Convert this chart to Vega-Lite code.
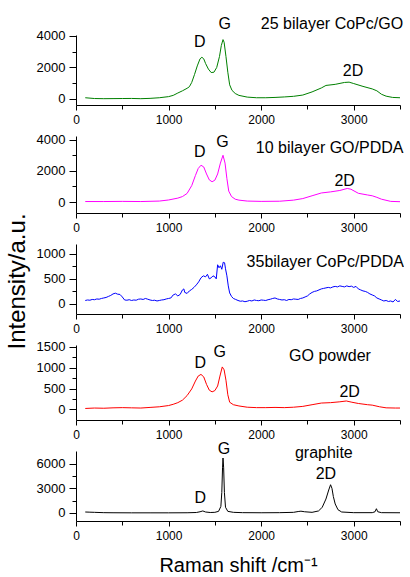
{
"$schema": "https://vega.github.io/schema/vega-lite/v6.json",
"padding": {"left": 5, "top": 15, "right": 0, "bottom": 0},
"spacing": 31,
"bounds": "flush",
"config": {"view": {"stroke": null}, "axis": {"grid": false, "domainColor": "#000", "tickColor": "#000", "labelColor": "#000", "titleColor": "#000", "labelFont": "Liberation Sans", "titleFont": "Liberation Sans", "titleFontWeight": "normal"}, "text": {"font": "Liberation Sans", "fontSize": 16, "color": "#000"}},
"datasets": {
"s1": [{"x":100,"y":80},{"x":200,"y":30},{"x":300,"y":20},{"x":400,"y":25},{"x":500,"y":30},{"x":600,"y":35},{"x":700,"y":20},{"x":800,"y":40},{"x":900,"y":80},{"x":1000,"y":150},{"x":1050,"y":230},{"x":1100,"y":380},{"x":1150,"y":520},{"x":1200,"y":680},{"x":1225,"y":780},{"x":1250,"y":1050},{"x":1280,"y":1550},{"x":1310,"y":2100},{"x":1340,"y":2550},{"x":1360,"y":2650},{"x":1380,"y":2550},{"x":1400,"y":2250},{"x":1430,"y":1900},{"x":1460,"y":1680},{"x":1490,"y":1700},{"x":1520,"y":2000},{"x":1550,"y":2700},{"x":1570,"y":3400},{"x":1588,"y":3770},{"x":1600,"y":3600},{"x":1620,"y":2700},{"x":1640,"y":1700},{"x":1660,"y":900},{"x":1685,"y":550},{"x":1720,"y":350},{"x":1760,"y":230},{"x":1850,"y":120},{"x":1950,"y":80},{"x":2050,"y":80},{"x":2150,"y":100},{"x":2250,"y":130},{"x":2350,"y":170},{"x":2450,"y":250},{"x":2550,"y":450},{"x":2650,"y":700},{"x":2700,"y":860},{"x":2800,"y":930},{"x":2900,"y":1050},{"x":2950,"y":1070},{"x":3000,"y":980},{"x":3100,"y":800},{"x":3200,"y":640},{"x":3250,"y":520},{"x":3300,"y":300},{"x":3350,"y":180},{"x":3420,"y":100},{"x":3500,"y":80}],
"s2": [{"x":100,"y":30},{"x":300,"y":30},{"x":500,"y":40},{"x":700,"y":30},{"x":900,"y":60},{"x":1000,"y":130},{"x":1100,"y":250},{"x":1150,"y":350},{"x":1200,"y":550},{"x":1250,"y":1050},{"x":1290,"y":1700},{"x":1320,"y":2150},{"x":1350,"y":2360},{"x":1380,"y":2250},{"x":1410,"y":1800},{"x":1440,"y":1420},{"x":1470,"y":1300},{"x":1500,"y":1400},{"x":1530,"y":1800},{"x":1560,"y":2500},{"x":1588,"y":3000},{"x":1610,"y":2500},{"x":1630,"y":1500},{"x":1650,"y":700},{"x":1680,"y":350},{"x":1720,"y":180},{"x":1760,"y":120},{"x":1850,"y":60},{"x":2000,"y":40},{"x":2200,"y":50},{"x":2350,"y":120},{"x":2450,"y":220},{"x":2550,"y":400},{"x":2650,"y":580},{"x":2750,"y":650},{"x":2850,"y":740},{"x":2930,"y":870},{"x":2970,"y":820},{"x":3050,"y":560},{"x":3150,"y":450},{"x":3200,"y":400},{"x":3250,"y":300},{"x":3300,"y":180},{"x":3400,"y":40},{"x":3500,"y":20}],
"s3": [{"x":100,"y":70},{"x":125,"y":80},{"x":150,"y":75},{"x":175,"y":90},{"x":200,"y":85},{"x":225,"y":100},{"x":250,"y":95},{"x":275,"y":110},{"x":300,"y":120},{"x":325,"y":130},{"x":350,"y":150},{"x":375,"y":170},{"x":400,"y":200},{"x":425,"y":215},{"x":450,"y":195},{"x":475,"y":190},{"x":500,"y":140},{"x":525,"y":80},{"x":550,"y":75},{"x":575,"y":85},{"x":600,"y":70},{"x":625,"y":80},{"x":650,"y":75},{"x":675,"y":95},{"x":700,"y":100},{"x":725,"y":90},{"x":750,"y":110},{"x":775,"y":95},{"x":800,"y":80},{"x":825,"y":70},{"x":850,"y":75},{"x":875,"y":60},{"x":900,"y":70},{"x":925,"y":80},{"x":950,"y":85},{"x":975,"y":100},{"x":1000,"y":110},{"x":1025,"y":120},{"x":1050,"y":180},{"x":1075,"y":200},{"x":1100,"y":160},{"x":1125,"y":190},{"x":1150,"y":280},{"x":1165,"y":300},{"x":1175,"y":230},{"x":1200,"y":210},{"x":1225,"y":260},{"x":1250,"y":290},{"x":1275,"y":330},{"x":1300,"y":380},{"x":1325,"y":440},{"x":1350,"y":520},{"x":1375,"y":560},{"x":1400,"y":540},{"x":1420,"y":590},{"x":1440,"y":500},{"x":1460,"y":520},{"x":1480,"y":560},{"x":1500,"y":540},{"x":1515,"y":500},{"x":1530,"y":780},{"x":1545,"y":720},{"x":1560,"y":760},{"x":1575,"y":690},{"x":1590,"y":830},{"x":1605,"y":820},{"x":1615,"y":700},{"x":1630,"y":560},{"x":1645,"y":360},{"x":1660,"y":220},{"x":1680,"y":150},{"x":1700,"y":110},{"x":1725,"y":90},{"x":1750,"y":70},{"x":1775,"y":55},{"x":1800,"y":60},{"x":1825,"y":45},{"x":1850,"y":55},{"x":1875,"y":70},{"x":1900,"y":60},{"x":1925,"y":80},{"x":1950,"y":70},{"x":1975,"y":65},{"x":2000,"y":80},{"x":2025,"y":75},{"x":2050,"y":70},{"x":2075,"y":85},{"x":2100,"y":95},{"x":2125,"y":110},{"x":2150,"y":120},{"x":2175,"y":100},{"x":2200,"y":90},{"x":2225,"y":80},{"x":2250,"y":85},{"x":2275,"y":70},{"x":2300,"y":90},{"x":2325,"y":85},{"x":2350,"y":100},{"x":2375,"y":95},{"x":2400,"y":90},{"x":2425,"y":110},{"x":2450,"y":120},{"x":2475,"y":140},{"x":2500,"y":160},{"x":2525,"y":200},{"x":2550,"y":230},{"x":2575,"y":250},{"x":2600,"y":260},{"x":2625,"y":280},{"x":2650,"y":300},{"x":2675,"y":310},{"x":2700,"y":320},{"x":2725,"y":330},{"x":2750,"y":320},{"x":2775,"y":340},{"x":2800,"y":350},{"x":2825,"y":340},{"x":2850,"y":360},{"x":2875,"y":350},{"x":2900,"y":340},{"x":2925,"y":360},{"x":2950,"y":345},{"x":2975,"y":355},{"x":3000,"y":330},{"x":3025,"y":350},{"x":3050,"y":300},{"x":3075,"y":280},{"x":3100,"y":260},{"x":3125,"y":250},{"x":3150,"y":230},{"x":3175,"y":200},{"x":3200,"y":180},{"x":3225,"y":160},{"x":3250,"y":120},{"x":3275,"y":100},{"x":3300,"y":80},{"x":3325,"y":60},{"x":3350,"y":70},{"x":3375,"y":50},{"x":3400,"y":60},{"x":3425,"y":40},{"x":3450,"y":90},{"x":3475,"y":50},{"x":3500,"y":60}],
"s4": [{"x":100,"y":20},{"x":200,"y":30},{"x":300,"y":25},{"x":400,"y":35},{"x":500,"y":40},{"x":600,"y":35},{"x":700,"y":30},{"x":800,"y":45},{"x":900,"y":60},{"x":1000,"y":90},{"x":1050,"y":120},{"x":1100,"y":160},{"x":1150,"y":220},{"x":1200,"y":330},{"x":1250,"y":490},{"x":1290,"y":680},{"x":1320,"y":800},{"x":1350,"y":840},{"x":1380,"y":780},{"x":1410,"y":600},{"x":1440,"y":460},{"x":1470,"y":420},{"x":1500,"y":450},{"x":1530,"y":560},{"x":1555,"y":800},{"x":1580,"y":1020},{"x":1600,"y":950},{"x":1620,"y":700},{"x":1640,"y":350},{"x":1660,"y":170},{"x":1700,"y":110},{"x":1760,"y":80},{"x":1850,"y":50},{"x":1950,"y":40},{"x":2050,"y":40},{"x":2150,"y":45},{"x":2250,"y":40},{"x":2350,"y":50},{"x":2450,"y":70},{"x":2550,"y":110},{"x":2650,"y":150},{"x":2750,"y":160},{"x":2850,"y":180},{"x":2920,"y":200},{"x":2980,"y":170},{"x":3050,"y":140},{"x":3150,"y":110},{"x":3200,"y":100},{"x":3280,"y":60},{"x":3350,"y":35},{"x":3450,"y":30},{"x":3500,"y":30}],
"s5": [{"x":100,"y":120},{"x":150,"y":100},{"x":200,"y":80},{"x":300,"y":40},{"x":400,"y":30},{"x":600,"y":20},{"x":800,"y":20},{"x":1000,"y":20},{"x":1200,"y":30},{"x":1300,"y":60},{"x":1340,"y":150},{"x":1370,"y":250},{"x":1400,"y":120},{"x":1450,"y":60},{"x":1500,"y":80},{"x":1540,"y":200},{"x":1565,"y":800},{"x":1575,"y":2500},{"x":1583,"y":5500},{"x":1588,"y":6690},{"x":1595,"y":5500},{"x":1603,"y":2500},{"x":1615,"y":700},{"x":1640,"y":200},{"x":1700,"y":80},{"x":1800,"y":40},{"x":2000,"y":30},{"x":2200,"y":40},{"x":2350,"y":80},{"x":2400,"y":180},{"x":2430,"y":220},{"x":2470,"y":150},{"x":2550,"y":80},{"x":2620,"y":250},{"x":2660,"y":700},{"x":2700,"y":1700},{"x":2730,"y":2800},{"x":2750,"y":3440},{"x":2765,"y":3000},{"x":2780,"y":2000},{"x":2800,"y":1100},{"x":2830,"y":400},{"x":2870,"y":120},{"x":3000,"y":40},{"x":3200,"y":40},{"x":3230,"y":150},{"x":3245,"y":520},{"x":3260,"y":150},{"x":3300,"y":40},{"x":3500,"y":30}],
"a1": [{"x":2765,"y":4762,"label":"25 bilayer CoPc/GO"},{"x":1336,"y":3638,"label":"D"},{"x":1606,"y":4750,"label":"G"},{"x":2992,"y":1757,"label":"2D"}],
"a2": [{"x":2740,"y":3467,"label":"10 bilayer GO/PDDA"},{"x":1336,"y":3242,"label":"D"},{"x":1581,"y":3831,"label":"G"},{"x":2902,"y":1370,"label":"2D"}],
"a3": [{"x":2693,"y":845,"label":"35bilayer CoPc/PDDA"}],
"a4": [{"x":2744,"y":1276,"label":"GO powder"},{"x":1343,"y":1108,"label":"D"},{"x":1552,"y":1372,"label":"G"},{"x":2956,"y":424,"label":"2D"}],
"a5": [{"x":2677,"y":7302,"label":"graphite"},{"x":2700,"y":4746,"label":"2D"},{"x":1598,"y":7789,"label":"G"},{"x":1343,"y":1825,"label":"D"}]
},
"vconcat": [
{"width": 324, "height": 70,
 "encoding": {
  "x": {"field": "x", "type": "quantitative", "scale": {"domain": [0, 3500], "nice": false}, "axis": {"title": null, "values": [0,500,1000,1500,2000,2500,3000,3500], "format": "d", "labelExpr": "datum.value % 1000 === 0 ? datum.label : ''", "labelFlush": false, "labelOverlap": false, "labelFontSize": 12, "labelPadding": 4, "tickSize": {"condition": {"test": "datum.value % 1000 === 0", "value": 5}, "value": 4}}},
  "y": {"field": "y", "type": "quantitative", "scale": {"domain": [-381, 4063], "nice": false, "zero": false}, "axis": {"title": null, "values": [0,1000,2000,3000,4000], "format": "d", "labelExpr": "datum.value % 2000 === 0 ? datum.label : ''", "labelOverlap": false, "labelFlush": false, "labelFontSize": 13, "labelPadding": 4, "tickSize": {"condition": {"test": "datum.value % 2000 === 0", "value": 7}, "value": 4}}}},
 "layer": [
 {"data": {"name": "s1"}, "mark": {"type": "line", "color": "#008000", "strokeWidth": 1}},
 {"data": {"name": "a1"}, "mark": {"type": "text"}, "encoding": {"text": {"field": "label"}}}
]},
{"width": 324, "height": 77,
 "encoding": {
  "x": {"field": "x", "type": "quantitative", "scale": {"domain": [0, 3500], "nice": false}, "axis": {"title": null, "values": [0,500,1000,1500,2000,2500,3000,3500], "format": "d", "labelExpr": "datum.value % 1000 === 0 ? datum.label : ''", "labelFlush": false, "labelOverlap": false, "labelFontSize": 12, "labelPadding": 4, "tickSize": {"condition": {"test": "datum.value % 1000 === 0", "value": 5}, "value": 4}}},
  "y": {"field": "y", "type": "quantitative", "scale": {"domain": [-706, 4238], "nice": false, "zero": false}, "axis": {"title": null, "values": [0,1000,2000,3000,4000], "format": "d", "labelExpr": "datum.value % 2000 === 0 ? datum.label : ''", "labelOverlap": false, "labelFlush": false, "labelFontSize": 13, "labelPadding": 4, "tickSize": {"condition": {"test": "datum.value % 2000 === 0", "value": 7}, "value": 4}}}},
 "layer": [
 {"data": {"name": "s2"}, "mark": {"type": "line", "color": "#FF00FF", "strokeWidth": 1}},
 {"data": {"name": "a2"}, "mark": {"type": "text"}, "encoding": {"text": {"field": "label"}}}
]},
{"width": 324, "height": 70,
 "encoding": {
  "x": {"field": "x", "type": "quantitative", "scale": {"domain": [0, 3500], "nice": false}, "axis": {"title": null, "values": [0,500,1000,1500,2000,2500,3000,3500], "format": "d", "labelExpr": "datum.value % 1000 === 0 ? datum.label : ''", "labelFlush": false, "labelOverlap": false, "labelFontSize": 12, "labelPadding": 4, "tickSize": {"condition": {"test": "datum.value % 1000 === 0", "value": 5}, "value": 4}}},
  "y": {"field": "y", "type": "quantitative", "scale": {"domain": [-199, 1193], "nice": false, "zero": false}, "axis": {"title": "Intensity/a.u.", "titleFontSize": 24, "titleX": -47, "titleY": 37, "titleAngle": -90, "values": [0,250,500,750,1000], "format": "d", "labelExpr": "datum.value % 500 === 0 ? datum.label : ''", "labelFlush": false, "labelOverlap": false, "labelFontSize": 13, "labelPadding": 4, "tickSize": {"condition": {"test": "datum.value % 500 === 0", "value": 7}, "value": 4}}}},
 "layer": [
 {"data": {"name": "s3"}, "mark": {"type": "line", "color": "#0000FF", "strokeWidth": 1}},
 {"data": {"name": "a3"}, "mark": {"type": "text"}, "encoding": {"text": {"field": "label"}}}
]},
{"width": 324, "height": 75,
 "encoding": {
  "x": {"field": "x", "type": "quantitative", "scale": {"domain": [0, 3500], "nice": false}, "axis": {"title": null, "values": [0,500,1000,1500,2000,2500,3000,3500], "format": "d", "labelExpr": "datum.value % 1000 === 0 ? datum.label : ''", "labelFlush": false, "labelOverlap": false, "labelFontSize": 12, "labelPadding": 4, "tickSize": {"condition": {"test": "datum.value % 1000 === 0", "value": 5}, "value": 4}}},
  "y": {"field": "y", "type": "quantitative", "scale": {"domain": [-258, 1548], "nice": false, "zero": false}, "axis": {"title": null, "values": [0,250,500,750,1000,1250,1500], "format": "d", "labelExpr": "datum.value % 500 === 0 ? datum.label : ''", "labelFlush": false, "labelOverlap": false, "labelFontSize": 13, "labelPadding": 4, "tickSize": {"condition": {"test": "datum.value % 500 === 0", "value": 7}, "value": 4}}}},
 "layer": [
 {"data": {"name": "s4"}, "mark": {"type": "line", "color": "#FF0000", "strokeWidth": 1}},
 {"data": {"name": "a4"}, "mark": {"type": "text"}, "encoding": {"text": {"field": "label"}}}
]},
{"width": 324, "height": 70,
 "encoding": {
  "x": {"field": "x", "type": "quantitative", "scale": {"domain": [0, 3500], "nice": false}, "axis": {"title": "Raman shift /cm⁻¹", "titleFontSize": 20, "titlePadding": 14, "values": [0,500,1000,1500,2000,2500,3000,3500], "format": "d", "labelExpr": "datum.value % 1000 === 0 ? datum.label : ''", "labelFlush": false, "labelOverlap": false, "labelFontSize": 12, "labelPadding": 4, "tickSize": {"condition": {"test": "datum.value % 1000 === 0", "value": 5}, "value": 4}}},
  "y": {"field": "y", "type": "quantitative", "scale": {"domain": [-974, 7545], "nice": false, "zero": false}, "axis": {"title": null, "values": [0,1500,3000,4500,6000], "format": "d", "labelExpr": "datum.value % 3000 === 0 ? datum.label : ''", "labelFlush": false, "labelOverlap": false, "labelFontSize": 13, "labelPadding": 4, "tickSize": {"condition": {"test": "datum.value % 3000 === 0", "value": 7}, "value": 4}}}},
 "layer": [
 {"data": {"name": "s5"}, "mark": {"type": "line", "color": "#000000", "strokeWidth": 1}},
 {"data": {"name": "a5"}, "mark": {"type": "text"}, "encoding": {"text": {"field": "label"}}}
]}
]
}
